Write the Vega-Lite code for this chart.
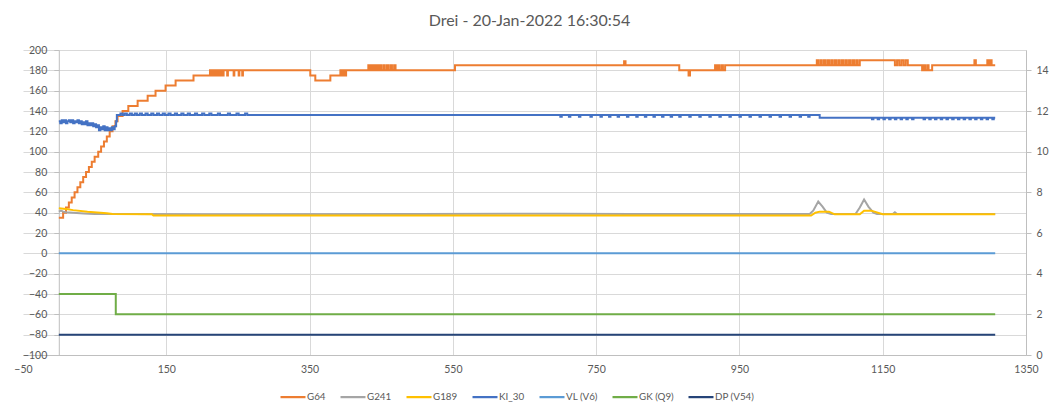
{
  "$schema": "https://vega.github.io/schema/vega-lite/v6.json",
  "width": 1003,
  "height": 305,
  "autosize": {"type": "none"},
  "padding": {"left": 23, "top": 50, "right": 33, "bottom": 62},
  "title": {"text": "Drei - 20-Jan-2022 16:30:54", "fontSize": 16, "font": "Lato", "fontWeight": "normal", "color": "#595959", "anchor": "middle", "frame": "group", "offset": 21, "baseline": "bottom", "dx": 5, "dy": 21},
  "config": {"view": {"stroke": null}, "font": "Lato"},
  "data": {"values": [
    {"s":"G64","x":0,"y":35},{"s":"G64","x":6,"y":40},{"s":"G64","x":10,"y":45},{"s":"G64","x":14,"y":50},{"s":"G64","x":18,"y":55},{"s":"G64","x":22,"y":60},{"s":"G64","x":26,"y":65},{"s":"G64","x":30,"y":70},{"s":"G64","x":34,"y":75},{"s":"G64","x":38,"y":80},{"s":"G64","x":42,"y":85},{"s":"G64","x":46,"y":90},{"s":"G64","x":50,"y":95},{"s":"G64","x":55,"y":100},{"s":"G64","x":59,"y":105},{"s":"G64","x":63,"y":110},{"s":"G64","x":67,"y":115},{"s":"G64","x":71,"y":120},{"s":"G64","x":75,"y":125},{"s":"G64","x":79,"y":130},{"s":"G64","x":82,"y":135},{"s":"G64","x":89,"y":140},{"s":"G64","x":97,"y":145},{"s":"G64","x":110,"y":150},{"s":"G64","x":124,"y":155},{"s":"G64","x":135,"y":160},{"s":"G64","x":149,"y":165},{"s":"G64","x":163,"y":170},{"s":"G64","x":188,"y":175},{"s":"G64","x":211,"y":180},
    {"s":"G64","x":213,"y":175},{"s":"G64","x":215,"y":180},{"s":"G64","x":217,"y":175},{"s":"G64","x":219,"y":180},{"s":"G64","x":221,"y":175},{"s":"G64","x":223,"y":180},{"s":"G64","x":225,"y":175},{"s":"G64","x":227,"y":180},{"s":"G64","x":229,"y":175},{"s":"G64","x":230,"y":180},{"s":"G64","x":235,"y":175},{"s":"G64","x":236,"y":180},{"s":"G64","x":244,"y":175},{"s":"G64","x":245,"y":180},{"s":"G64","x":251,"y":175},{"s":"G64","x":252,"y":180},{"s":"G64","x":256,"y":175},{"s":"G64","x":257,"y":180},
    {"s":"G64","x":351,"y":175},{"s":"G64","x":358,"y":170},{"s":"G64","x":379,"y":175},{"s":"G64","x":393,"y":180},{"s":"G64","x":395,"y":175},{"s":"G64","x":397,"y":180},{"s":"G64","x":399,"y":175},{"s":"G64","x":401,"y":180},
    {"s":"G64","x":432,"y":185},{"s":"G64","x":434,"y":180},{"s":"G64","x":436,"y":185},{"s":"G64","x":438,"y":180},{"s":"G64","x":440,"y":185},{"s":"G64","x":442,"y":180},{"s":"G64","x":444,"y":185},{"s":"G64","x":446,"y":180},{"s":"G64","x":448,"y":185},{"s":"G64","x":450,"y":180},{"s":"G64","x":453,"y":185},{"s":"G64","x":455,"y":180},{"s":"G64","x":458,"y":185},{"s":"G64","x":460,"y":180},{"s":"G64","x":463,"y":185},{"s":"G64","x":465,"y":180},{"s":"G64","x":468,"y":185},{"s":"G64","x":470,"y":180},
    {"s":"G64","x":553,"y":185},{"s":"G64","x":789,"y":189},{"s":"G64","x":791,"y":185},{"s":"G64","x":866,"y":180},{"s":"G64","x":879,"y":175},{"s":"G64","x":881,"y":180},{"s":"G64","x":916,"y":185},{"s":"G64","x":918,"y":180},{"s":"G64","x":920,"y":185},{"s":"G64","x":922,"y":180},{"s":"G64","x":925,"y":185},{"s":"G64","x":927,"y":180},{"s":"G64","x":930,"y":185},
    {"s":"G64","x":1058,"y":190},{"s":"G64","x":1060,"y":185},{"s":"G64","x":1063,"y":190},{"s":"G64","x":1065,"y":185},{"s":"G64","x":1068,"y":190},{"s":"G64","x":1070,"y":185},{"s":"G64","x":1073,"y":190},{"s":"G64","x":1075,"y":185},{"s":"G64","x":1078,"y":190},{"s":"G64","x":1080,"y":185},{"s":"G64","x":1083,"y":190},{"s":"G64","x":1085,"y":185},{"s":"G64","x":1088,"y":190},{"s":"G64","x":1090,"y":185},{"s":"G64","x":1093,"y":190},{"s":"G64","x":1095,"y":185},{"s":"G64","x":1098,"y":190},{"s":"G64","x":1100,"y":185},{"s":"G64","x":1103,"y":190},{"s":"G64","x":1105,"y":185},{"s":"G64","x":1108,"y":190},{"s":"G64","x":1110,"y":185},{"s":"G64","x":1113,"y":190},{"s":"G64","x":1115,"y":185},{"s":"G64","x":1118,"y":190},
    {"s":"G64","x":1167,"y":185},{"s":"G64","x":1170,"y":190},{"s":"G64","x":1173,"y":185},{"s":"G64","x":1176,"y":190},{"s":"G64","x":1179,"y":185},{"s":"G64","x":1182,"y":190},{"s":"G64","x":1185,"y":185},{"s":"G64","x":1205,"y":180},{"s":"G64","x":1207,"y":185},{"s":"G64","x":1209,"y":180},{"s":"G64","x":1212,"y":185},{"s":"G64","x":1214,"y":180},{"s":"G64","x":1219,"y":185},{"s":"G64","x":1278,"y":190},{"s":"G64","x":1280,"y":185},{"s":"G64","x":1296,"y":190},{"s":"G64","x":1298,"y":185},{"s":"G64","x":1300,"y":190},{"s":"G64","x":1302,"y":185},{"s":"G64","x":1307,"y":185},

    {"s":"G241","x":0,"y":41},{"s":"G241","x":3,"y":42},{"s":"G241","x":6,"y":41},{"s":"G241","x":10,"y":40.5},{"s":"G241","x":20,"y":40},{"s":"G241","x":35,"y":39.3},{"s":"G241","x":50,"y":38.8},{"s":"G241","x":100,"y":38.7},{"s":"G241","x":200,"y":38.5},{"s":"G241","x":500,"y":38.7},{"s":"G241","x":650,"y":39},{"s":"G241","x":700,"y":39},{"s":"G241","x":800,"y":38.7},{"s":"G241","x":1048,"y":38.7},{"s":"G241","x":1053,"y":42},{"s":"G241","x":1060,"y":51},{"s":"G241","x":1066,"y":46},{"s":"G241","x":1072,"y":40},{"s":"G241","x":1078,"y":38.7},{"s":"G241","x":1112,"y":38.7},{"s":"G241","x":1118,"y":45},{"s":"G241","x":1124,"y":53},{"s":"G241","x":1130,"y":46},{"s":"G241","x":1137,"y":40},{"s":"G241","x":1142,"y":38.7},{"s":"G241","x":1164,"y":38.7},{"s":"G241","x":1167,"y":40.3},{"s":"G241","x":1170,"y":38.7},{"s":"G241","x":1307,"y":38.7},

    {"s":"G189","x":0,"y":44.3},{"s":"G189","x":10,"y":43.5},{"s":"G189","x":20,"y":42.5},{"s":"G189","x":40,"y":41},{"s":"G189","x":67,"y":39.4},{"s":"G189","x":75,"y":38.6},{"s":"G189","x":130,"y":38.4},{"s":"G189","x":132,"y":37.2},{"s":"G189","x":300,"y":37.2},{"s":"G189","x":1050,"y":37.2},{"s":"G189","x":1056,"y":40},{"s":"G189","x":1062,"y":41},{"s":"G189","x":1075,"y":41},{"s":"G189","x":1083,"y":38.4},{"s":"G189","x":1118,"y":38.4},{"s":"G189","x":1124,"y":42},{"s":"G189","x":1134,"y":42},{"s":"G189","x":1150,"y":38.4},{"s":"G189","x":1307,"y":38.4},

    {"s":"KI_30","x":0,"y":130},{"s":"KI_30","x":2,"y":128},{"s":"KI_30","x":4,"y":131},{"s":"KI_30","x":6,"y":129},{"s":"KI_30","x":8,"y":131},{"s":"KI_30","x":10,"y":128},{"s":"KI_30","x":12,"y":130},{"s":"KI_30","x":14,"y":131},{"s":"KI_30","x":16,"y":129},{"s":"KI_30","x":18,"y":131},{"s":"KI_30","x":20,"y":128},{"s":"KI_30","x":22,"y":130},{"s":"KI_30","x":24,"y":129},{"s":"KI_30","x":26,"y":131},{"s":"KI_30","x":28,"y":128},{"s":"KI_30","x":30,"y":130},{"s":"KI_30","x":32,"y":127},{"s":"KI_30","x":34,"y":129},{"s":"KI_30","x":36,"y":127},{"s":"KI_30","x":38,"y":130},{"s":"KI_30","x":40,"y":126},{"s":"KI_30","x":42,"y":128},{"s":"KI_30","x":44,"y":126},{"s":"KI_30","x":46,"y":128},{"s":"KI_30","x":48,"y":125},{"s":"KI_30","x":50,"y":127},{"s":"KI_30","x":52,"y":124},{"s":"KI_30","x":54,"y":126},{"s":"KI_30","x":56,"y":121},{"s":"KI_30","x":58,"y":124},{"s":"KI_30","x":60,"y":122},{"s":"KI_30","x":62,"y":125},{"s":"KI_30","x":64,"y":121},{"s":"KI_30","x":66,"y":124},{"s":"KI_30","x":68,"y":121},{"s":"KI_30","x":70,"y":123},{"s":"KI_30","x":72,"y":121},{"s":"KI_30","x":74,"y":124},{"s":"KI_30","x":76,"y":122},{"s":"KI_30","x":78,"y":125},{"s":"KI_30","x":80,"y":130},{"s":"KI_30","x":81,"y":136.1},
    {"s":"KI_30","x":86,"y":137.6},{"s":"KI_30","x":89,"y":136.1},{"s":"KI_30","x":92,"y":137.6},{"s":"KI_30","x":95,"y":136.1},{"s":"KI_30","x":99,"y":137.6},{"s":"KI_30","x":102,"y":136.1},{"s":"KI_30","x":106,"y":137.6},{"s":"KI_30","x":109,"y":136.1},{"s":"KI_30","x":113,"y":137.6},{"s":"KI_30","x":116,"y":136.1},{"s":"KI_30","x":121,"y":137.6},{"s":"KI_30","x":124,"y":136.1},{"s":"KI_30","x":129,"y":137.6},{"s":"KI_30","x":132,"y":136.1},{"s":"KI_30","x":137,"y":137.6},{"s":"KI_30","x":140,"y":136.1},{"s":"KI_30","x":145,"y":137.6},{"s":"KI_30","x":148,"y":136.1},{"s":"KI_30","x":153,"y":137.6},{"s":"KI_30","x":156,"y":136.1},{"s":"KI_30","x":162,"y":137.6},{"s":"KI_30","x":165,"y":136.1},{"s":"KI_30","x":171,"y":137.6},{"s":"KI_30","x":174,"y":136.1},{"s":"KI_30","x":180,"y":137.6},{"s":"KI_30","x":183,"y":136.1},{"s":"KI_30","x":190,"y":137.6},{"s":"KI_30","x":193,"y":136.1},{"s":"KI_30","x":200,"y":137.6},{"s":"KI_30","x":203,"y":136.1},{"s":"KI_30","x":210,"y":137.6},{"s":"KI_30","x":213,"y":136.1},{"s":"KI_30","x":222,"y":137.6},{"s":"KI_30","x":225,"y":136.1},{"s":"KI_30","x":236,"y":137.6},{"s":"KI_30","x":239,"y":136.1},{"s":"KI_30","x":248,"y":137.6},{"s":"KI_30","x":251,"y":136.1},{"s":"KI_30","x":260,"y":137.6},{"s":"KI_30","x":263,"y":136.1},
    {"s":"KI_30","x":700,"y":134.4},{"s":"KI_30","x":702,"y":136.1},{"s":"KI_30","x":712,"y":134.4},{"s":"KI_30","x":714,"y":136.1},{"s":"KI_30","x":726,"y":134.4},{"s":"KI_30","x":728,"y":136.1},{"s":"KI_30","x":742,"y":134.4},{"s":"KI_30","x":744,"y":136.1},{"s":"KI_30","x":756,"y":134.4},{"s":"KI_30","x":758,"y":136.1},{"s":"KI_30","x":768,"y":134.4},{"s":"KI_30","x":770,"y":136.1},{"s":"KI_30","x":780,"y":134.4},{"s":"KI_30","x":782,"y":136.1},{"s":"KI_30","x":793,"y":134.4},{"s":"KI_30","x":795,"y":136.1},{"s":"KI_30","x":806,"y":134.4},{"s":"KI_30","x":808,"y":136.1},{"s":"KI_30","x":818,"y":134.4},{"s":"KI_30","x":820,"y":136.1},{"s":"KI_30","x":830,"y":134.4},{"s":"KI_30","x":832,"y":136.1},{"s":"KI_30","x":842,"y":134.4},{"s":"KI_30","x":844,"y":136.1},{"s":"KI_30","x":854,"y":134.4},{"s":"KI_30","x":856,"y":136.1},{"s":"KI_30","x":866,"y":134.4},{"s":"KI_30","x":868,"y":136.1},{"s":"KI_30","x":880,"y":134.4},{"s":"KI_30","x":882,"y":136.1},{"s":"KI_30","x":894,"y":134.4},{"s":"KI_30","x":896,"y":136.1},{"s":"KI_30","x":908,"y":134.4},{"s":"KI_30","x":910,"y":136.1},{"s":"KI_30","x":922,"y":134.4},{"s":"KI_30","x":924,"y":136.1},{"s":"KI_30","x":936,"y":134.4},{"s":"KI_30","x":938,"y":136.1},{"s":"KI_30","x":950,"y":134.4},{"s":"KI_30","x":952,"y":136.1},{"s":"KI_30","x":964,"y":134.4},{"s":"KI_30","x":966,"y":136.1},{"s":"KI_30","x":978,"y":134.4},{"s":"KI_30","x":980,"y":136.1},{"s":"KI_30","x":992,"y":134.4},{"s":"KI_30","x":994,"y":136.1},{"s":"KI_30","x":1006,"y":134.4},{"s":"KI_30","x":1008,"y":136.1},{"s":"KI_30","x":1020,"y":134.4},{"s":"KI_30","x":1022,"y":136.1},{"s":"KI_30","x":1034,"y":134.4},{"s":"KI_30","x":1036,"y":136.1},{"s":"KI_30","x":1046,"y":134.4},{"s":"KI_30","x":1048,"y":136.1},{"s":"KI_30","x":1062,"y":133.4},
    {"s":"KI_30","x":1135,"y":131.8},{"s":"KI_30","x":1137,"y":133.4},{"s":"KI_30","x":1143,"y":131.8},{"s":"KI_30","x":1145,"y":133.4},{"s":"KI_30","x":1151,"y":131.8},{"s":"KI_30","x":1153,"y":133.4},{"s":"KI_30","x":1159,"y":131.8},{"s":"KI_30","x":1161,"y":133.4},{"s":"KI_30","x":1167,"y":131.8},{"s":"KI_30","x":1169,"y":133.4},{"s":"KI_30","x":1175,"y":131.8},{"s":"KI_30","x":1177,"y":133.4},{"s":"KI_30","x":1183,"y":131.8},{"s":"KI_30","x":1185,"y":133.4},{"s":"KI_30","x":1191,"y":131.8},{"s":"KI_30","x":1193,"y":133.4},{"s":"KI_30","x":1207,"y":131.8},{"s":"KI_30","x":1209,"y":133.4},{"s":"KI_30","x":1215,"y":131.8},{"s":"KI_30","x":1217,"y":133.4},{"s":"KI_30","x":1223,"y":131.8},{"s":"KI_30","x":1225,"y":133.4},{"s":"KI_30","x":1231,"y":131.8},{"s":"KI_30","x":1233,"y":133.4},{"s":"KI_30","x":1239,"y":131.8},{"s":"KI_30","x":1241,"y":133.4},{"s":"KI_30","x":1247,"y":131.8},{"s":"KI_30","x":1249,"y":133.4},{"s":"KI_30","x":1255,"y":131.8},{"s":"KI_30","x":1257,"y":133.4},{"s":"KI_30","x":1263,"y":131.8},{"s":"KI_30","x":1265,"y":133.4},{"s":"KI_30","x":1271,"y":131.8},{"s":"KI_30","x":1273,"y":133.4},{"s":"KI_30","x":1279,"y":131.8},{"s":"KI_30","x":1281,"y":133.4},{"s":"KI_30","x":1287,"y":131.8},{"s":"KI_30","x":1289,"y":133.4},{"s":"KI_30","x":1295,"y":131.8},{"s":"KI_30","x":1297,"y":133.4},{"s":"KI_30","x":1303,"y":131.8},{"s":"KI_30","x":1305,"y":133.4},{"s":"KI_30","x":1307,"y":133.4},

    {"s":"VL (V6)","x":0,"y":0},{"s":"VL (V6)","x":1307,"y":0},
    {"s":"GK (Q9)","x":0,"y":-40},{"s":"GK (Q9)","x":79.5,"y":-60},{"s":"GK (Q9)","x":1307,"y":-60},
    {"s":"DP (V54)","x":0,"y":-80},{"s":"DP (V54)","x":1307,"y":-80}
  ]},
  "encoding": {
    "x": {"field": "x", "type": "quantitative",
      "scale": {"domain": [-50, 1350], "nice": false, "zero": false},
      "axis": {"title": null, "values": [-50, 150, 350, 550, 750, 950, 1150, 1350], "format": "d", "grid": true,
        "gridColor": {"condition": {"test": "datum.value === -50", "value": "transparent"}, "value": "#D9D9D9"},
        "ticks": false, "domainColor": "#BFBFBF", "labelColor": "#595959", "labelFont": "Lato", "labelFontSize": 10.5,
        "labelPadding": 9, "labelFlush": false, "labelOverlap": false}},
    "color": {"field": "s", "type": "nominal",
      "scale": {"domain": ["G64", "G241", "G189", "KI_30", "VL (V6)", "GK (Q9)", "DP (V54)"],
        "range": ["#ED7D31", "#A5A5A5", "#FFC000", "#4472C4", "#5B9BD5", "#70AD47", "#264478"]},
      "legend": {"orient": "none", "legendX": 256, "legendY": 333, "direction": "horizontal", "columns": 7, "title": null,
        "symbolType": "stroke", "symbolSize": 625, "symbolStrokeWidth": 2.25, "labelOffset": 0, "columnPadding": 10,
        "labelFont": "Lato", "labelFontSize": 9.8, "labelColor": "#595959"}}
  },
  "layer": [
    {"transform": [{"filter": "datum.s === 'G64'"}],
     "mark": {"type": "line", "interpolate": "step-after", "strokeWidth": 2},
     "encoding": {"y": {"field": "y", "type": "quantitative",
       "scale": {"domain": [-100, 200], "nice": false, "zero": false},
       "axis": {"title": null, "values": [-100, -80, -60, -40, -20, 0, 20, 40, 60, 80, 100, 120, 140, 160, 180, 200],
         "offset": -35.8, "grid": true, "gridColor": "#D9D9D9", "domainColor": "#BFBFBF", "tickColor": "#BFBFBF", "tickSize": 5,
         "labelPadding": 7, "labelColor": "#595959", "labelFont": "Lato", "labelFontSize": 10.5}}}},
    {"transform": [{"filter": "datum.s === 'G241' || datum.s === 'G189'"}],
     "mark": {"type": "line", "strokeWidth": 2},
     "encoding": {"y": {"field": "y", "type": "quantitative", "axis": null}}},
    {"transform": [{"filter": "datum.s === 'KI_30' || datum.s === 'VL (V6)' || datum.s === 'GK (Q9)' || datum.s === 'DP (V54)'"}],
     "mark": {"type": "line", "interpolate": "step-after", "strokeWidth": 2},
     "encoding": {"y": {"field": "y", "type": "quantitative",
       "axis": {"orient": "right", "title": null, "values": [-100, -60, -20, 20, 60, 100, 140, 180],
         "labelExpr": "format((datum.value + 100) / 20, 'd')", "grid": false,
         "domainColor": "#BFBFBF", "tickColor": "#BFBFBF", "tickSize": 5, "labelPadding": 5,
         "labelColor": "#595959", "labelFont": "Lato", "labelFontSize": 10.5}}}}
  ],
  "resolve": {"axis": {"y": "independent"}}
}
